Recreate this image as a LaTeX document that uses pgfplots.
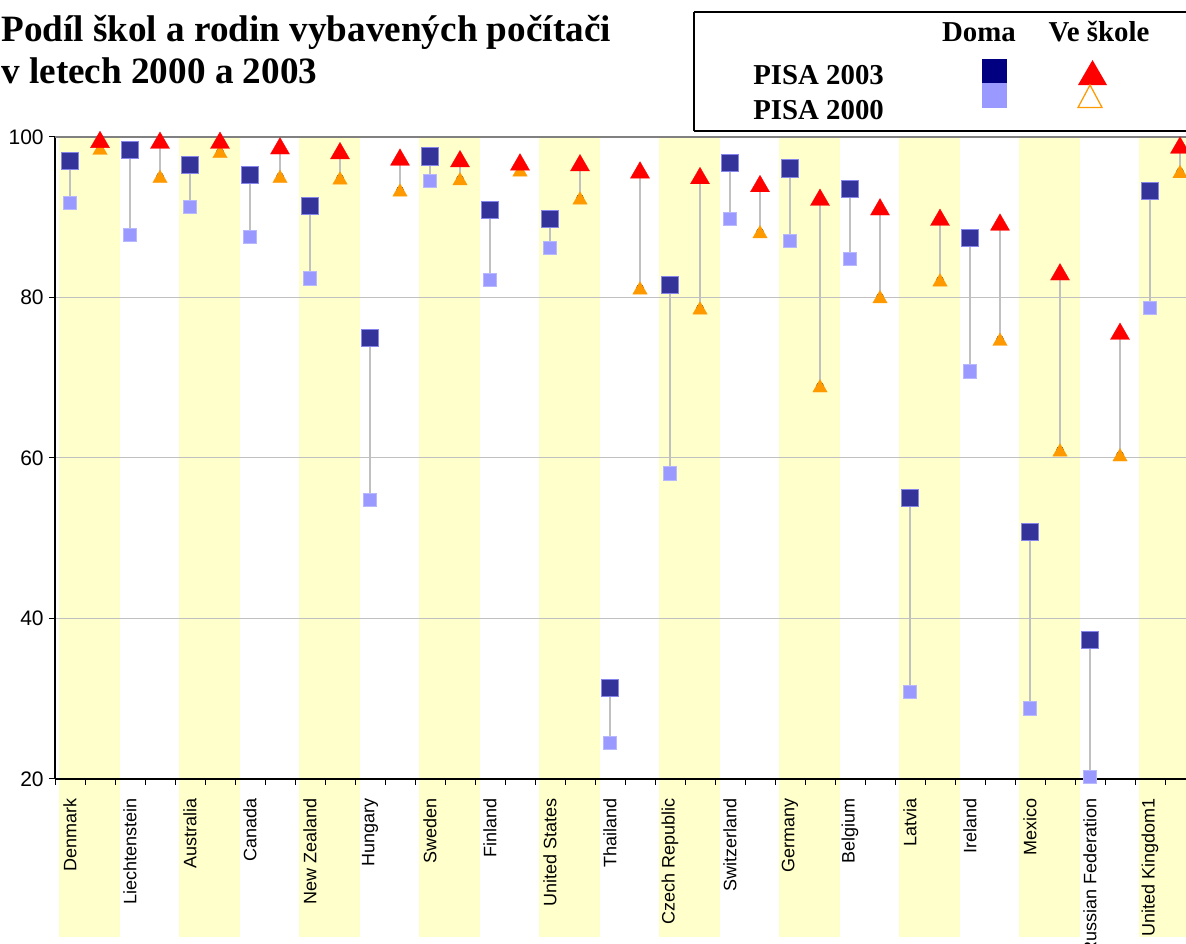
\documentclass[border=0pt]{standalone}
\usepackage{fontspec}
\setmainfont{Liberation Serif}
\newfontfamily\arial{Liberation Sans}
\usepackage{pgfplots}
\pgfplotsset{compat=1.18}
\usepackage{pgfplotstable}

\definecolor{bandY}{HTML}{FFFFCC}
\definecolor{darkB}{HTML}{333399}
\definecolor{lightB}{HTML}{9999FF}
\definecolor{schoolR}{HTML}{FF0000}
\definecolor{schoolO}{HTML}{FF9900}
\definecolor{gridG}{HTML}{C0C0C0}
\definecolor{navyL}{HTML}{000080}

% x = slot of the "Doma" value (school value is at x+1)
\pgfplotstableread{
x  h03  h00  s03  s00
0  97.0 91.8 99.7 98.6
2  98.4 87.8 99.6 95.1
4  96.5 91.3 99.6 98.2
6  95.3 87.6 98.9 95.1
8  91.4 82.4 98.3 94.9
10 75.0 54.8 97.5 93.4
12 97.6 94.5 97.3 94.8
14 90.9 82.2 96.9 95.9
16 89.8 86.2 96.8 92.4
18 31.4 24.5 95.9 81.2
20 81.6 58.1 95.2 78.7
22 96.8 89.8 94.2 88.2
24 96.1 87.1 92.5 69.0
26 93.5 84.8 91.3 80.1
28 55.0 30.9 90.0 82.2
30 87.4 70.8 89.4 74.8
32 50.8 28.8 83.2 61.0
34 37.3 20.3 75.8 60.4
36 93.3 78.7 99.0 95.7
}\data

\begin{document}
\begin{tikzpicture}
\path[use as bounding box] (0,0) rectangle (711.6pt,566.4pt);
% ---------- background / title / legend layer (pixel coordinates) ----------
\begin{axis}[at={(0pt,0pt)}, anchor=south west, scale only axis,
  width=711.6pt, height=566.4pt, xmin=0, xmax=1186, ymin=0, ymax=944,
  y dir=reverse, hide axis, clip=false]
  \addplot[fill=bandY, draw=none] coordinates {(58.5,137)(119.5,137)(119.5,937)(58.5,937)} --cycle;
  \addplot[fill=bandY, draw=none] coordinates {(178.5,137)(239.5,137)(239.5,937)(178.5,937)} --cycle;
  \addplot[fill=bandY, draw=none] coordinates {(298.5,137)(359.5,137)(359.5,937)(298.5,937)} --cycle;
  \addplot[fill=bandY, draw=none] coordinates {(418.5,137)(479.5,137)(479.5,937)(418.5,937)} --cycle;
  \addplot[fill=bandY, draw=none] coordinates {(538.5,137)(599.5,137)(599.5,937)(538.5,937)} --cycle;
  \addplot[fill=bandY, draw=none] coordinates {(658.5,137)(719.5,137)(719.5,937)(658.5,937)} --cycle;
  \addplot[fill=bandY, draw=none] coordinates {(778.5,137)(839.5,137)(839.5,937)(778.5,937)} --cycle;
  \addplot[fill=bandY, draw=none] coordinates {(898.5,137)(959.5,137)(959.5,937)(898.5,937)} --cycle;
  \addplot[fill=bandY, draw=none] coordinates {(1018.5,137)(1079.5,137)(1079.5,937)(1018.5,937)} --cycle;
  \addplot[fill=bandY, draw=none] coordinates {(1138.5,137)(1186,137)(1186,937)(1138.5,937)} --cycle;
  % title
  \node[anchor=base west, inner sep=0pt, font=\bfseries\fontsize{22.3}{26}\selectfont] at (axis cs:1,41.7) {Podíl škol a rodin vybavených počítači};
  \node[anchor=base west, inner sep=0pt, font=\bfseries\fontsize{22.3}{26}\selectfont] at (axis cs:1,83) {v letech 2000 a 2003};
  % legend box
  \draw[line width=1.2pt] (axis cs:694,12) -- (axis cs:1186,12);
  \draw[line width=1.2pt] (axis cs:694,131) -- (axis cs:1186,131);
  \draw[line width=1.2pt] (axis cs:694,12) -- (axis cs:694,131);
  \node[anchor=base, inner sep=0pt, font=\bfseries\fontsize{17.3}{20}\selectfont] at (axis cs:979,41.7) {Doma};
  \node[anchor=base, inner sep=0pt, font=\bfseries\fontsize{17.3}{20}\selectfont] at (axis cs:1099,41.7) {Ve škole};
  \node[anchor=base west, inner sep=0pt, font=\bfseries\fontsize{17.3}{20}\selectfont] at (axis cs:753,84.3) {PISA 2003};
  \node[anchor=base west, inner sep=0pt, font=\bfseries\fontsize{17.3}{20}\selectfont] at (axis cs:753,119.3) {PISA 2000};
  \addplot[fill=navyL, draw=none] coordinates {(982,59)(1007,59)(1007,83)(982,83)} --cycle;
  \addplot[fill=lightB, draw=none] coordinates {(982,83)(1007,83)(1007,108)(982,108)} --cycle;
  \addplot[fill=schoolR, draw=none] coordinates {(1078,85)(1107,85)(1092.5,60)} --cycle;
  \addplot[fill=white, draw=schoolO, line width=0.75pt] coordinates {(1078,107.5)(1102,107.5)(1090,85)} --cycle;
\end{axis}
% ---------- main chart ----------
\begin{axis}[at={(33pt,99pt)}, anchor=south west, scale only axis,
  width=684pt, height=385.2pt,
  xmin=-0.5, xmax=37.5, ymin=20, ymax=100, clip=false,
  axis x line*=bottom, axis y line*=left,
  axis line style={-, black, line width=0.9pt},
  tick align=outside,
  ytick={20,40,...,100}, ymajorgrids, grid style={gridG, line width=0.6pt},
  major tick length=3.6pt, minor tick length=3.6pt,
  major y tick style={black, line width=0.6pt},
  extra y ticks={100}, extra y tick labels={},
  extra y tick style={grid style={gray, line width=1pt}, major tick length=0pt},
  xtick={0,2,...,36},
  xticklabels={Denmark, Liechtenstein, Australia, Canada, New Zealand, Hungary, Sweden, Finland, United States, Thailand, Czech Republic, Switzerland, Germany, Belgium, Latvia, Ireland, Mexico, Russian Federation, United Kingdom1},
  major x tick style={draw=none},
  minor xtick={-0.5,0.5,...,37.5},
  minor x tick style={black, line width=0.6pt},
  xticklabel style={font=\arial\fontsize{10.8}{12}\selectfont, rotate=90, anchor=east, inner sep=0pt, xshift=-8pt},
  yticklabel style={font=\arial\fontsize{12.6}{14}\selectfont, inner sep=0pt, xshift=-3pt},
  /pgf/number format/assume math mode=true,
]
  % connectors
  \addplot[only marks, mark=none, forget plot,
    error bars/.cd, y dir=plus, y explicit, error mark=none,
    error bar style={draw=gridG, line width=0.75pt}]
    table[x=x, y=h00, y error plus expr=\thisrow{h03}-\thisrow{h00}] {\data};
  \addplot[only marks, mark=none, forget plot,
    error bars/.cd, y dir=plus, y explicit, error mark=none,
    error bar style={draw=gridG, line width=0.75pt}]
    table[x expr=\thisrow{x}+1, y=s00, y error plus expr=\thisrow{s03}-\thisrow{s00}] {\data};
  % PISA 2000
  \addplot[only marks, mark=square*, mark size=4pt,
    mark options={fill=lightB, draw=lightB!70!white, line width=0.4pt}]
    table[x=x, y=h00] {\data};
  \addplot[only marks, mark=triangle*, mark size=5pt,
    mark options={fill=schoolO, draw=schoolO, line width=0.2pt, yshift=-1.25pt}]
    table[x expr=\thisrow{x}+1, y=s00] {\data};
  % PISA 2003
  \addplot[only marks, mark=square*, mark size=5.2pt,
    mark options={fill=darkB, draw=lightB!80!darkB, line width=0.4pt}]
    table[x=x, y=h03] {\data};
  \addplot[only marks, mark=triangle*, mark size=6.6pt,
    mark options={fill=schoolR, draw=schoolR, line width=0.2pt, yshift=-1.65pt}]
    table[x expr=\thisrow{x}+1, y=s03] {\data};
\end{axis}
\end{tikzpicture}
\end{document}
